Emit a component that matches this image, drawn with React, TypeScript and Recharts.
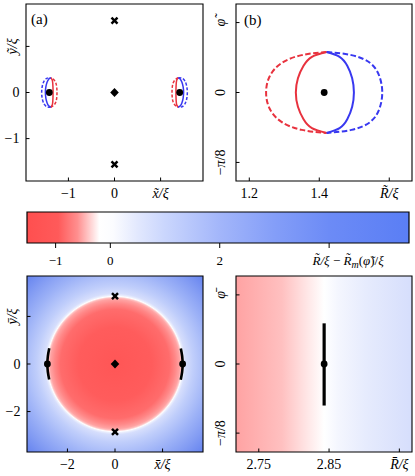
import React from 'react';
import { ComposedChart, XAxis, YAxis, Line, Scatter, ReferenceArea } from 'recharts';

const FONT = '"Liberation Serif", "DejaVu Serif", serif';
const RED = '#e8323e';
const BLUE = '#3838f0';

// ---- Panel (b): boundary curves in (R~/xi, phi~), read top -> bottom ----
const RED_SOLID_R = [1.421, 1.379, 1.355, 1.339, 1.333, 1.339, 1.355, 1.379, 1.421];
const RED_SOLID_PHI = [0.227, 0.2, 0.15, 0.08, 0, -0.08, -0.15, -0.2, -0.227];
const BLUE_SOLID_R = [1.421, 1.458, 1.48, 1.494, 1.499, 1.494, 1.48, 1.458, 1.421];
const BLUE_SOLID_PHI = [0.227, 0.2, 0.15, 0.08, 0, -0.08, -0.15, -0.2, -0.227];
const RED_DASH_R = [1.421, 1.35, 1.292, 1.258, 1.248, 1.258, 1.292, 1.35, 1.421];
const RED_DASH_PHI = [0.227, 0.21, 0.165, 0.09, 0, -0.09, -0.165, -0.21, -0.227];
const BLUE_DASH_R = [1.421, 1.492, 1.546, 1.572, 1.58, 1.572, 1.546, 1.492, 1.421];
const BLUE_DASH_PHI = [0.227, 0.21, 0.165, 0.09, 0, -0.09, -0.165, -0.21, -0.227];
const R_CENTER_B = 1.414;

// ---- Panel (a) markers ----
const DOT_A_X = [-1.414, 1.414];
const CROSS_A_Y = [1.56, -1.56];

// ---- Panel (d) / (c) ----
const R_BAR = 2.843;
const SEG_PHI = [0.231, 0.115, 0, -0.118, -0.236];
const CROSS_C_Y = [2.85, -2.85];

// heat map colour stops: value R - R_m  -> colour
const HEAT_V = [-2.85, -1.3, -0.55, -0.3, -0.125, -0.06, -0.03, 0, 0.02, 0.06, 0.125, 0.45, 1.15, 1.75, 2.4];
const HEAT_C = ['#ff5656', '#ff5c5c', '#ff6c6c', '#ff8888', '#ffa3a3', '#ffc0c0', '#ffe0e0', '#ffffff', '#f4f6fe', '#e6ebfd', '#d6defc', '#c0cefb', '#9db2f7', '#839cf3', '#6583ef'];

// colour bar
const CB_MIN = -1.523;
const CB_MAX = 5.46;
const CB_V = [-1.523, -0.95, -0.6, -0.35, -0.2, 0.05, 0.5, 1.0, 2.0, 3.0, 4.0, 5.46];
const CB_C = ['#ff4f4f', '#ff5a5a', '#ff8f8f', '#ffd5d5', '#ffffff', '#fbfcff', '#e2e8fe', '#cad6fd', '#a3b6fa', '#849ef8', '#6c8bf6', '#5a7ef5'];
const CB_TICKS = [-1, 0, 2, 4];

// domains
const A_DOM: [number, number] = [-1.92, 1.92];
const B_XDOM: [number, number] = [1.162, 1.665];
const B_YDOM: [number, number] = [-0.497, 0.497];
const C_DOM: [number, number] = [-3.7, 3.7];
const D_XDOM: [number, number] = [2.7176, 2.968];
const D_YDOM: [number, number] = [-0.5, 0.5];
const P8 = Math.PI / 8;

const toXY = (R: number[], P: number[]) => R.map((r, i) => ({ x: r, y: P[i] }));
const toCart = (R: number[], P: number[], s: number) =>
  R.map((r, i) => ({ x: s * r * Math.cos(P[i]), y: s * r * Math.sin(P[i]) }));

type Lab = { v: number; t: React.ReactNode; rot?: boolean; dx?: number };
const find = (labs: Lab[], v: number) => labs.find((l) => Math.abs(l.v - v) < 1e-6);

const bottomTick = (labs: Lab[], inward = true, len = 3.5, off = 16.5, fs = 14) => (props: any) => {
  const { x, y, payload } = props;
  const l = find(labs, payload.value);
  return (
    <g>
      <line x1={x} x2={x} y1={y} y2={inward ? y - len : y + len} stroke="#000" strokeWidth={1} />
      {l && (
        <text x={x + (l.dx || 0)} y={y + off} textAnchor="middle" fontFamily={FONT} fontSize={fs} fill="#000">
          {l.t}
        </text>
      )}
    </g>
  );
};

const leftTick = (labs: Lab[], rotOff: number) => (props: any) => {
  const { x, y, payload } = props;
  const l = find(labs, payload.value);
  return (
    <g>
      <line x1={x} x2={x + 3.5} y1={y} y2={y} stroke="#000" strokeWidth={1} />
      {l &&
        (l.rot ? (
          <text transform={`translate(${x - rotOff},${y}) rotate(-90)`} textAnchor="middle" dy="0.35em" fontFamily={FONT} fontSize={14} fill="#000">
            {l.t}
          </text>
        ) : (
          <text x={x - 6.5} y={y} dy="0.35em" textAnchor="end" fontFamily={FONT} fontSize={14} fill="#000">
            {l.t}
          </text>
        ))}
    </g>
  );
};

const I = (s: string) => <tspan fontStyle="italic">{s}</tspan>;

const XMark = (p: any) => (
  <g>
    <line x1={p.cx - 3} y1={p.cy - 3} x2={p.cx + 3} y2={p.cy + 3} stroke="#000" strokeWidth={2.4} />
    <line x1={p.cx - 3} y1={p.cy + 3} x2={p.cx + 3} y2={p.cy - 3} stroke="#000" strokeWidth={2.4} />
  </g>
);
const Diamond = (p: any) => (
  <polygon points={`${p.cx},${p.cy - 4.6} ${p.cx + 4.3},${p.cy} ${p.cx},${p.cy + 4.6} ${p.cx - 4.3},${p.cy}`} fill="#000" />
);
const Dot = (p: any) => <circle cx={p.cx} cy={p.cy} r={3.4} fill="#000" />;
const NoShape = () => <g />;

const frame = (xd: [number, number], yd: [number, number]) => (
  <ReferenceArea x1={xd[0]} x2={xd[1]} y1={yd[0]} y2={yd[1]} fill="none" stroke="#000" strokeWidth={1.1} strokeOpacity={1} ifOverflow="visible" />
);

const SPECS = [
  { R: RED_DASH_R, P: RED_DASH_PHI, c: RED, d: true },
  { R: BLUE_DASH_R, P: BLUE_DASH_PHI, c: BLUE, d: true },
  { R: RED_SOLID_R, P: RED_SOLID_PHI, c: RED, d: false },
  { R: BLUE_SOLID_R, P: BLUE_SOLID_PHI, c: BLUE, d: false },
];

function PanelA() {
  return (
    <ComposedChart width={210} height={200} margin={{ top: 4, right: 7, bottom: 0, left: 0 }}>
      <XAxis type="number" dataKey="x" domain={A_DOM} ticks={[-1, 0, 1]} allowDataOverflow interval={0} height={19}
        axisLine={false} tickLine={false} tickSize={0} tickMargin={0}
        tick={bottomTick([{ v: -1, t: '−1' }, { v: 0, t: '0' }, { v: 1, t: <>{I('x\u0303/ξ')}</> }])} />
      <YAxis type="number" dataKey="y" domain={A_DOM} ticks={[-1, 0, 1]} allowDataOverflow interval={0} width={26}
        axisLine={false} tickLine={false} tickSize={0} tickMargin={0}
        tick={leftTick([{ v: -1, t: '−1' }, { v: 0, t: '0' }, { v: 1, t: <>{I('y\u0303/ξ')}</>, rot: true }], 14)} />
      {[1, -1].map((s) =>
        SPECS.map((sp, i) => (
          <Line key={`${s}-${i}`} data={toCart(sp.R, sp.P, s)} dataKey="y" type="natural" stroke={sp.c} strokeWidth={1.5}
            strokeDasharray={sp.d ? '3 1.8' : undefined} dot={false} activeDot={false} isAnimationActive={false} />
        ))
      )}
      <Scatter data={DOT_A_X.map((x) => ({ x, y: 0 }))} shape={Dot} isAnimationActive={false} />
      <Scatter data={CROSS_A_Y.map((y) => ({ x: 0, y }))} shape={XMark} isAnimationActive={false} />
      <Scatter data={[{ x: 0, y: 0 }]} shape={Diamond} isAnimationActive={false} />
      {frame(A_DOM, A_DOM)}
      <text x={31} y={24} fontFamily={FONT} fontSize={15} fill="#000">(a)</text>
    </ComposedChart>
  );
}

function PanelB() {
  return (
    <ComposedChart width={215} height={200} margin={{ top: 4, right: 3, bottom: 0, left: 0 }}>
      <XAxis type="number" dataKey="x" domain={B_XDOM} ticks={[1.2, 1.4, 1.6]} allowDataOverflow interval={0} height={19}
        axisLine={false} tickLine={false} tickSize={0} tickMargin={0}
        tick={bottomTick([{ v: 1.2, t: '1.2' }, { v: 1.4, t: '1.4' }, { v: 1.6, t: <>{I('R\u0303/ξ')}</> }])} />
      <YAxis type="number" dataKey="y" domain={B_YDOM} ticks={[-P8, 0, P8]} allowDataOverflow interval={0} width={36}
        axisLine={false} tickLine={false} tickSize={0} tickMargin={0}
        tick={leftTick([{ v: -P8, t: <>−{I('π')}/8</>, rot: true }, { v: 0, t: '0', rot: true }, { v: P8, t: <>{I('φ\u0303')}</>, rot: true }], 16)} />
      {SPECS.map((sp, i) => (
        <Line key={i} data={toXY(sp.R, sp.P)} dataKey="y" type="natural" stroke={sp.c} strokeWidth={2}
          strokeDasharray={sp.d ? '5.5 2.5' : undefined} dot={false} activeDot={false} isAnimationActive={false} />
      ))}
      <Scatter data={[{ x: R_CENTER_B, y: 0 }]} shape={Dot} isAnimationActive={false} />
      {frame(B_XDOM, B_YDOM)}
      <text x={44} y={25} fontFamily={FONT} fontSize={15} fill="#000">(b)</text>
    </ComposedChart>
  );
}

function ColorBar() {
  const span = CB_MAX - CB_MIN;
  return (
    <ComposedChart width={415} height={72} margin={{ top: 7, right: 6, bottom: 0, left: 27 }}>
      <defs>
        <linearGradient id="cbGrad" x1="0" x2="1" y1="0" y2="0">
          {CB_V.map((v, i) => (
            <stop key={i} offset={(v - CB_MIN) / span} stopColor={CB_C[i]} />
          ))}
        </linearGradient>
      </defs>
      <XAxis type="number" dataKey="x" domain={[CB_MIN, CB_MAX]} ticks={CB_TICKS} allowDataOverflow interval={0} height={34}
        axisLine={false} tickLine={false} tickSize={0} tickMargin={0}
        tick={bottomTick([
          { v: -1, t: '−1' }, { v: 0, t: '0' }, { v: 2, t: '2' },
          { v: 4, dx: 19, t: <>{I('R\u0303/ξ')} − {I('R\u0303')}<tspan fontStyle="italic" fontSize={10} dy={3}>m</tspan><tspan dy={-3}>(</tspan>{I('φ\u0303')})/{I('ξ')}</> },
        ], false, 5, 21.5, 13)} />
      <YAxis type="number" dataKey="y" domain={[0, 1]} hide />
      <Scatter data={[{ x: CB_MIN, y: 0 }, { x: CB_MAX, y: 1 }]} shape={NoShape} isAnimationActive={false} />
      <ReferenceArea x1={CB_MIN} x2={CB_MAX} y1={0} y2={1} fill="url(#cbGrad)" fillOpacity={1} stroke="#000" strokeWidth={1.2} strokeOpacity={1} ifOverflow="visible" />
    </ComposedChart>
  );
}

function PanelC() {
  const rMax = Math.hypot(C_DOM[1], C_DOM[1]);
  return (
    <ComposedChart width={210} height={221} margin={{ top: 21, right: 7, bottom: 0, left: 0 }}>
      <defs>
        <radialGradient id="cGrad" cx="0.5" cy="0.5" r={rMax / (C_DOM[1] - C_DOM[0])}>
          {HEAT_V.map((v, i) => (
            <stop key={i} offset={Math.min(1, Math.max(0, (v + R_BAR) / rMax))} stopColor={HEAT_C[i]} />
          ))}
        </radialGradient>
      </defs>
      <XAxis type="number" dataKey="x" domain={C_DOM} ticks={[-2, 0, 2]} allowDataOverflow interval={0} height={24}
        axisLine={false} tickLine={false} tickSize={0} tickMargin={0}
        tick={bottomTick([{ v: -2, t: '−2' }, { v: 0, t: '0' }, { v: 2, t: <>{I('x\u0304/ξ')}</> }])} />
      <YAxis type="number" dataKey="y" domain={C_DOM} ticks={[-2, 0, 2]} allowDataOverflow interval={0} width={27}
        axisLine={false} tickLine={false} tickSize={0} tickMargin={0}
        tick={leftTick([{ v: -2, t: '−2' }, { v: 0, t: '0' }, { v: 2, t: <>{I('y\u0304/ξ')}</>, rot: true }], 14.5)} />
      <ReferenceArea x1={C_DOM[0]} x2={C_DOM[1]} y1={C_DOM[0]} y2={C_DOM[1]} fill="url(#cGrad)" fillOpacity={1} stroke="none" />
      {[1, -1].map((s) => (
        <Line key={s} data={toCart(SEG_PHI.map(() => R_BAR), SEG_PHI, s)} dataKey="y" type="natural" stroke="#000" strokeWidth={2.6}
          dot={false} activeDot={false} isAnimationActive={false} />
      ))}
      <Scatter data={[{ x: -R_BAR, y: 0 }, { x: R_BAR, y: 0 }]} shape={Dot} isAnimationActive={false} />
      <Scatter data={CROSS_C_Y.map((y) => ({ x: 0, y }))} shape={XMark} isAnimationActive={false} />
      <Scatter data={[{ x: 0, y: 0 }]} shape={Diamond} isAnimationActive={false} />
      {frame(C_DOM, C_DOM)}
      <text x={31} y={42} fontFamily={FONT} fontSize={15} fill="#fff">(c)</text>
    </ComposedChart>
  );
}

function PanelD() {
  const vMin = HEAT_V[0];
  const vMax = HEAT_V[HEAT_V.length - 1];
  return (
    <ComposedChart width={215} height={221} margin={{ top: 21, right: 3, bottom: 0, left: 0 }}>
      <defs>
        <linearGradient id="dGrad" x1="0" x2="1" y1="0" y2="0">
          {HEAT_V.map((v, i) => (
            <stop key={i} offset={(v - vMin) / (vMax - vMin)} stopColor={HEAT_C[i]} />
          ))}
        </linearGradient>
      </defs>
      <XAxis type="number" dataKey="x" domain={D_XDOM} ticks={[2.75, 2.85, 2.95]} allowDataOverflow interval={0} height={24}
        axisLine={false} tickLine={false} tickSize={0} tickMargin={0}
        tick={bottomTick([{ v: 2.75, t: '2.75' }, { v: 2.85, t: '2.85' }, { v: 2.95, t: <>{I('R\u0304/ξ')}</> }])} />
      <YAxis type="number" dataKey="y" domain={D_YDOM} ticks={[-P8, 0, P8]} allowDataOverflow interval={0} width={36}
        axisLine={false} tickLine={false} tickSize={0} tickMargin={0}
        tick={leftTick([{ v: -P8, t: <>−{I('π')}/8</>, rot: true }, { v: 0, t: '0', rot: true }, { v: P8, t: <>{I('φ\u0304')}</>, rot: true }], 15.5)} />
      <ReferenceArea x1={R_BAR + vMin} x2={R_BAR + vMax} y1={D_YDOM[0]} y2={D_YDOM[1]} fill="url(#dGrad)" fillOpacity={1} stroke="none" ifOverflow="hidden" />
      <Line data={SEG_PHI.map((p) => ({ x: R_BAR, y: p }))} dataKey="y" type="linear" stroke="#000" strokeWidth={3.2}
        dot={false} activeDot={false} isAnimationActive={false} />
      <Scatter data={[{ x: R_BAR, y: 0 }]} shape={Dot} isAnimationActive={false} />
      {frame(D_XDOM, D_YDOM)}
      <text x={43} y={42} fontFamily={FONT} fontSize={15} fill="#fff">(d)</text>
    </ComposedChart>
  );
}

export default function App() {
  const abs = (left: number, top: number): React.CSSProperties => ({ position: 'absolute', left, top });
  return (
    <div style={{ position: 'absolute', left: 0, top: 0, width: 415, height: 476, background: '#fff', fontFamily: FONT }}>
      <div style={abs(0, 205)}><ColorBar /></div>
      <div style={abs(0, 0)}><PanelA /></div>
      <div style={abs(200, 0)}><PanelB /></div>
      <div style={abs(0, 255)}><PanelC /></div>
      <div style={abs(200, 255)}><PanelD /></div>
    </div>
  );
}
